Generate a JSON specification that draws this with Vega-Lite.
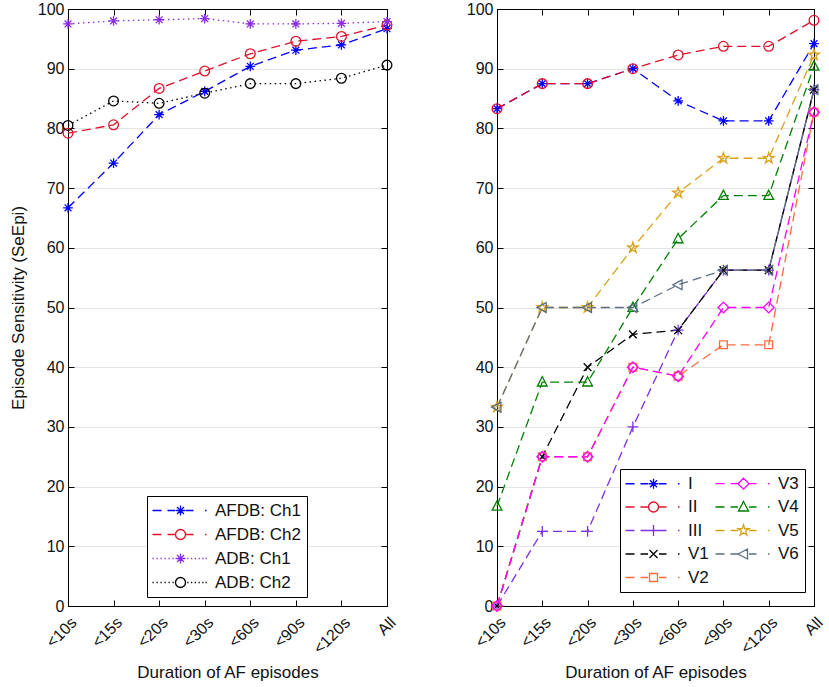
{
  "$schema": "https://vega.github.io/schema/vega-lite/v6.json",
  "padding": {"left": 8, "top": 0, "right": 5, "bottom": 5},
  "spacing": 110,
  "bounds": "flush",
  "resolve": {
    "scale": {"color": "independent", "shape": "independent", "strokeDash": "independent"}
  },
  "config": {
    "font": "Liberation Sans",
    "view": {"stroke": "black", "strokeWidth": 1},
    "axis": {
      "domainColor": "black", "tickColor": "black", "gridColor": "#e4e4e4", "gridWidth": 1,
      "labelFontSize": 16, "titleFontSize": 17, "titleFontWeight": "normal",
      "labelColor": "#111", "titleColor": "#111", "tickSize": -6, "labelPadding": 10
    },
    "legend": {
      "orient": "none", "title": null, "strokeColor": "black", "fillColor": "white",
      "padding": 6, "labelFontSize": 17, "labelColor": "#111", "symbolSize": 100,
      "symbolStrokeWidth": 1.3, "rowPadding": 6, "symbolOffset": 19, "labelOffset": 26
    }
  },
  "datasets": {
    "left": [
      {"dur": "<10s", "series": "AFDB: Ch1", "se": 66.7},
      {"dur": "<15s", "series": "AFDB: Ch1", "se": 74.2},
      {"dur": "<20s", "series": "AFDB: Ch1", "se": 82.3},
      {"dur": "<30s", "series": "AFDB: Ch1", "se": 86.2},
      {"dur": "<60s", "series": "AFDB: Ch1", "se": 90.4},
      {"dur": "<90s", "series": "AFDB: Ch1", "se": 93.1},
      {"dur": "<120s", "series": "AFDB: Ch1", "se": 94.0},
      {"dur": "All", "series": "AFDB: Ch1", "se": 96.7},
      {"dur": "<10s", "series": "AFDB: Ch2", "se": 79.2},
      {"dur": "<15s", "series": "AFDB: Ch2", "se": 80.6},
      {"dur": "<20s", "series": "AFDB: Ch2", "se": 86.7},
      {"dur": "<30s", "series": "AFDB: Ch2", "se": 89.6},
      {"dur": "<60s", "series": "AFDB: Ch2", "se": 92.5},
      {"dur": "<90s", "series": "AFDB: Ch2", "se": 94.6},
      {"dur": "<120s", "series": "AFDB: Ch2", "se": 95.4},
      {"dur": "All", "series": "AFDB: Ch2", "se": 97.3},
      {"dur": "<10s", "series": "ADB: Ch1", "se": 97.5},
      {"dur": "<15s", "series": "ADB: Ch1", "se": 98.0},
      {"dur": "<20s", "series": "ADB: Ch1", "se": 98.2},
      {"dur": "<30s", "series": "ADB: Ch1", "se": 98.4},
      {"dur": "<60s", "series": "ADB: Ch1", "se": 97.5},
      {"dur": "<90s", "series": "ADB: Ch1", "se": 97.5},
      {"dur": "<120s", "series": "ADB: Ch1", "se": 97.6},
      {"dur": "All", "series": "ADB: Ch1", "se": 97.9},
      {"dur": "<10s", "series": "ADB: Ch2", "se": 80.5},
      {"dur": "<15s", "series": "ADB: Ch2", "se": 84.6},
      {"dur": "<20s", "series": "ADB: Ch2", "se": 84.2},
      {"dur": "<30s", "series": "ADB: Ch2", "se": 85.9},
      {"dur": "<60s", "series": "ADB: Ch2", "se": 87.5},
      {"dur": "<90s", "series": "ADB: Ch2", "se": 87.5},
      {"dur": "<120s", "series": "ADB: Ch2", "se": 88.4},
      {"dur": "All", "series": "ADB: Ch2", "se": 90.6}
    ],
    "right": [
      {"dur": "<10s", "series": "I", "se": 83.3},
      {"dur": "<15s", "series": "I", "se": 87.5},
      {"dur": "<20s", "series": "I", "se": 87.5},
      {"dur": "<30s", "series": "I", "se": 90.0},
      {"dur": "<60s", "series": "I", "se": 84.6},
      {"dur": "<90s", "series": "I", "se": 81.25},
      {"dur": "<120s", "series": "I", "se": 81.25},
      {"dur": "All", "series": "I", "se": 94.2},
      {"dur": "<10s", "series": "II", "se": 83.3},
      {"dur": "<15s", "series": "II", "se": 87.5},
      {"dur": "<20s", "series": "II", "se": 87.5},
      {"dur": "<30s", "series": "II", "se": 90.0},
      {"dur": "<60s", "series": "II", "se": 92.3},
      {"dur": "<90s", "series": "II", "se": 93.75},
      {"dur": "<120s", "series": "II", "se": 93.75},
      {"dur": "All", "series": "II", "se": 98.1},
      {"dur": "<10s", "series": "III", "se": 0},
      {"dur": "<15s", "series": "III", "se": 12.5},
      {"dur": "<20s", "series": "III", "se": 12.5},
      {"dur": "<30s", "series": "III", "se": 30.0},
      {"dur": "<60s", "series": "III", "se": 46.2},
      {"dur": "<90s", "series": "III", "se": 56.25},
      {"dur": "<120s", "series": "III", "se": 56.25},
      {"dur": "All", "series": "III", "se": 86.5},
      {"dur": "<10s", "series": "V1", "se": 0},
      {"dur": "<15s", "series": "V1", "se": 25.0},
      {"dur": "<20s", "series": "V1", "se": 40.0},
      {"dur": "<30s", "series": "V1", "se": 45.5},
      {"dur": "<60s", "series": "V1", "se": 46.2},
      {"dur": "<90s", "series": "V1", "se": 56.25},
      {"dur": "<120s", "series": "V1", "se": 56.25},
      {"dur": "All", "series": "V1", "se": 86.5},
      {"dur": "<10s", "series": "V2", "se": 0},
      {"dur": "<15s", "series": "V2", "se": 25.0},
      {"dur": "<20s", "series": "V2", "se": 25.0},
      {"dur": "<30s", "series": "V2", "se": 40.0},
      {"dur": "<60s", "series": "V2", "se": 38.5},
      {"dur": "<90s", "series": "V2", "se": 43.75},
      {"dur": "<120s", "series": "V2", "se": 43.75},
      {"dur": "All", "series": "V2", "se": 82.7},
      {"dur": "<10s", "series": "V3", "se": 0},
      {"dur": "<15s", "series": "V3", "se": 25.0},
      {"dur": "<20s", "series": "V3", "se": 25.0},
      {"dur": "<30s", "series": "V3", "se": 40.0},
      {"dur": "<60s", "series": "V3", "se": 38.5},
      {"dur": "<90s", "series": "V3", "se": 50.0},
      {"dur": "<120s", "series": "V3", "se": 50.0},
      {"dur": "All", "series": "V3", "se": 82.7},
      {"dur": "<10s", "series": "V4", "se": 16.7},
      {"dur": "<15s", "series": "V4", "se": 37.5},
      {"dur": "<20s", "series": "V4", "se": 37.5},
      {"dur": "<30s", "series": "V4", "se": 50.0},
      {"dur": "<60s", "series": "V4", "se": 61.5},
      {"dur": "<90s", "series": "V4", "se": 68.75},
      {"dur": "<120s", "series": "V4", "se": 68.75},
      {"dur": "All", "series": "V4", "se": 90.4},
      {"dur": "<10s", "series": "V5", "se": 33.3},
      {"dur": "<15s", "series": "V5", "se": 50.0},
      {"dur": "<20s", "series": "V5", "se": 50.0},
      {"dur": "<30s", "series": "V5", "se": 60.0},
      {"dur": "<60s", "series": "V5", "se": 69.2},
      {"dur": "<90s", "series": "V5", "se": 75.0},
      {"dur": "<120s", "series": "V5", "se": 75.0},
      {"dur": "All", "series": "V5", "se": 92.3},
      {"dur": "<10s", "series": "V6", "se": 33.3},
      {"dur": "<15s", "series": "V6", "se": 50.0},
      {"dur": "<20s", "series": "V6", "se": 50.0},
      {"dur": "<30s", "series": "V6", "se": 50.0},
      {"dur": "<60s", "series": "V6", "se": 53.8},
      {"dur": "<90s", "series": "V6", "se": 56.25},
      {"dur": "<120s", "series": "V6", "se": 56.25},
      {"dur": "All", "series": "V6", "se": 86.5}
    ]
  },
  "hconcat": [
    {
      "width": 319,
      "height": 597,
      "data": {"name": "left"},
      "layer": [
        {
          "mark": {"type": "line", "strokeWidth": 1.3},
          "encoding": {
            "x": {
              "field": "dur", "type": "ordinal",
              "scale": {"type": "point", "padding": 0, "domain": ["<10s", "<15s", "<20s", "<30s", "<60s", "<90s", "<120s", "All"]},
              "axis": {"title": "Duration of AF episodes", "labelAngle": -45, "labelAlign": "right", "labelBaseline": "top", "labelPadding": 14, "titlePadding": 8}
            },
            "y": {
              "field": "se", "type": "quantitative",
              "scale": {"domain": [0, 100], "nice": false},
              "axis": {"title": "Episode Sensitivity (SeEpi)", "values": [0, 10, 20, 30, 40, 50, 60, 70, 80, 90, 100], "titlePadding": 10}
            },
            "color": {
              "field": "series", "type": "nominal",
              "scale": {"domain": ["AFDB: Ch1", "AFDB: Ch2", "ADB: Ch1", "ADB: Ch2"], "range": ["#0000FF", "#E0102A", "#8B2BE2", "#000000"]},
              "legend": {
                "legendX": 79, "legendY": 487,
                "encode": {"symbols": {"update": {
                  "fill": {"value": "transparent"},
                  "strokeDash": {"value": []},
                  "shape": {"signal": "{'AFDB: Ch1': 'M-5.6,0L-3.8,0M-2.6,0L-1.1,0M1.1,0L2.6,0M4.9,0L5.2,0M-1,0L1,0M0,-1L0,1M-0.7,-0.7L0.7,0.7M-0.7,0.7L0.7,-0.7', 'AFDB: Ch2': 'M-5.6,0L-3.8,0M-2.6,0L-1.1,0M1.1,0L2.6,0M4.9,0L5.2,0M1,0A1,1,0,1,1,-1,0A1,1,0,1,1,1,0Z', 'ADB: Ch1': 'M-5.6,0L-5.35,0M-4.8,0L-4.55,0M-4,0L-3.75,0M-3.2,0L-2.95,0M-2.4,0L-2.15,0M-1.6,0L-1.35,0M1.35,0L1.6,0M2.1,0L2.35,0M2.85,0L3.1,0M3.6,0L3.85,0M4.35,0L4.6,0M5.0,0L5.25,0M-1,0L1,0M0,-1L0,1M-0.7,-0.7L0.7,0.7M-0.7,0.7L0.7,-0.7', 'ADB: Ch2': 'M-5.6,0L-5.35,0M-4.8,0L-4.55,0M-4,0L-3.75,0M-3.2,0L-2.95,0M-2.4,0L-2.15,0M-1.6,0L-1.35,0M1.35,0L1.6,0M2.1,0L2.35,0M2.85,0L3.1,0M3.6,0L3.85,0M4.35,0L4.6,0M5.0,0L5.25,0M1,0A1,1,0,1,1,-1,0A1,1,0,1,1,1,0Z'}[datum.value]"}
                }}}
              }
            },
            "strokeDash": {
              "field": "series", "type": "nominal",
              "scale": {"domain": ["AFDB: Ch1", "AFDB: Ch2", "ADB: Ch1", "ADB: Ch2"], "range": [[9, 5], [9, 5], [1.5, 3.5], [1.5, 3.5]]},
              "legend": null
            }
          }
        },
        {
          "mark": {"type": "point", "filled": false, "strokeWidth": 1.3, "size": 95, "opacity": 1},
          "encoding": {
            "x": {"field": "dur", "type": "ordinal", "axis": {"orient": "top", "labels": false, "grid": false, "title": null}},
            "y": {"field": "se", "type": "quantitative", "axis": {"orient": "right", "labels": false, "grid": false, "title": null, "values": [0, 10, 20, 30, 40, 50, 60, 70, 80, 90, 100]}},
            "color": {"field": "series", "type": "nominal", "legend": null},
            "shape": {
              "field": "series", "type": "nominal",
              "scale": {"domain": ["AFDB: Ch1", "AFDB: Ch2", "ADB: Ch1", "ADB: Ch2"], "range": ["M-1,0L1,0M0,-1L0,1M-0.7,-0.7L0.7,0.7M-0.7,0.7L0.7,-0.7", "circle", "M-1,0L1,0M0,-1L0,1M-0.7,-0.7L0.7,0.7M-0.7,0.7L0.7,-0.7", "circle"]},
              "legend": null
            }
          }
        }
      ],
      "resolve": {"axis": {"x": "independent", "y": "independent"}, "legend": {"color": "independent"}}
    },
    {
      "width": 317,
      "height": 597,
      "data": {"name": "right"},
      "layer": [
        {
          "mark": {"type": "line", "strokeWidth": 1.3, "strokeDash": [9, 5]},
          "encoding": {
            "x": {
              "field": "dur", "type": "ordinal",
              "scale": {"type": "point", "padding": 0, "domain": ["<10s", "<15s", "<20s", "<30s", "<60s", "<90s", "<120s", "All"]},
              "axis": {"title": "Duration of AF episodes", "labelAngle": -45, "labelAlign": "right", "labelBaseline": "top", "labelPadding": 14, "titlePadding": 8}
            },
            "y": {
              "field": "se", "type": "quantitative",
              "scale": {"domain": [0, 100], "nice": false},
              "axis": {"title": null, "values": [0, 10, 20, 30, 40, 50, 60, 70, 80, 90, 100]}
            },
            "color": {
              "field": "series", "type": "nominal",
              "scale": {"domain": ["I", "II", "III", "V1", "V2", "V3", "V4", "V5", "V6"], "range": ["#0000FF", "#E0102A", "#7B2FE6", "#000000", "#FF6A3D", "#FF00FF", "#008000", "#D9A21B", "#5B6E82"]},
              "legend": {
                "legendX": 123, "legendY": 460, "columns": 2, "columnPadding": 3, "rowPadding": 5.5,
                "encode": {"symbols": {"update": {
                  "fill": {"value": "transparent"},
                  "strokeDash": {"value": []},
                  "shape": {"signal": "{'I': 'M-5.6,0L-3.8,0M-2.6,0L-1.1,0M1.1,0L2.6,0M4.9,0L5.2,0M-1,0L1,0M0,-1L0,1M-0.7,-0.7L0.7,0.7M-0.7,0.7L0.7,-0.7', 'II': 'M-5.6,0L-3.8,0M-2.6,0L-1.1,0M1.1,0L2.6,0M4.9,0L5.2,0M1,0A1,1,0,1,1,-1,0A1,1,0,1,1,1,0Z', 'III': 'M-5.6,0L-3.8,0M-2.6,0L-1.1,0M1.1,0L2.6,0M4.9,0L5.2,0M-1.1,0L1.1,0M0,-1.1L0,1.1', 'V1': 'M-5.6,0L-3.8,0M-2.6,0L-1.1,0M1.1,0L2.6,0M4.9,0L5.2,0M-0.8,-0.8L0.8,0.8M-0.8,0.8L0.8,-0.8', 'V2': 'M-5.6,0L-3.8,0M-2.6,0L-1.1,0M1.1,0L2.6,0M4.9,0L5.2,0M-0.8,-0.8L0.8,-0.8L0.8,0.8L-0.8,0.8Z', 'V3': 'M-5.6,0L-3.8,0M-2.6,0L-1.1,0M1.1,0L2.6,0M4.9,0L5.2,0M0,-1.1L1.1,0L0,1.1L-1.1,0Z', 'V4': 'M-5.6,0L-3.8,0M-2.6,0L-1.1,0M1.1,0L2.6,0M4.9,0L5.2,0M0,-1.1L1,0.8L-1,0.8Z', 'V5': 'M-5.6,0L-3.8,0M-2.6,0L-1.1,0M1.1,0L2.6,0M4.9,0L5.2,0M0,-1.15L0.26,-0.35L1.09,-0.36L0.42,0.13L0.68,0.93L0,0.44L-0.68,0.93L-0.42,0.13L-1.09,-0.36L-0.26,-0.35Z', 'V6': 'M-5.6,0L-3.8,0M-2.6,0L-1.1,0M1.1,0L2.6,0M4.9,0L5.2,0M-1.1,0L0.8,-1L0.8,1Z'}[datum.value]"}
                }}}
              }
            }
          }
        },
        {
          "mark": {"type": "point", "filled": false, "strokeWidth": 1.3, "size": 95, "opacity": 1},
          "encoding": {
            "x": {"field": "dur", "type": "ordinal", "axis": {"orient": "top", "labels": false, "grid": false, "title": null}},
            "y": {"field": "se", "type": "quantitative", "axis": {"orient": "right", "labels": false, "grid": false, "title": null, "values": [0, 10, 20, 30, 40, 50, 60, 70, 80, 90, 100]}},
            "color": {"field": "series", "type": "nominal", "legend": null},
            "shape": {
              "field": "series", "type": "nominal",
              "scale": {"domain": ["I", "II", "III", "V1", "V2", "V3", "V4", "V5", "V6"], "range": [
                "M-1,0L1,0M0,-1L0,1M-0.7,-0.7L0.7,0.7M-0.7,0.7L0.7,-0.7",
                "circle",
                "M-1.1,0L1.1,0M0,-1.1L0,1.1",
                "M-0.8,-0.8L0.8,0.8M-0.8,0.8L0.8,-0.8",
                "M-0.8,-0.8L0.8,-0.8L0.8,0.8L-0.8,0.8Z",
                "M0,-1.1L1.1,0L0,1.1L-1.1,0Z",
                "M0,-1.1L1,0.8L-1,0.8Z",
                "M0,-1.15L0.26,-0.35L1.09,-0.36L0.42,0.13L0.68,0.93L0,0.44L-0.68,0.93L-0.42,0.13L-1.09,-0.36L-0.26,-0.35Z",
                "M-1.1,0L0.8,-1L0.8,1Z"
              ]},
              "legend": null
            }
          }
        }
      ],
      "resolve": {"axis": {"x": "independent", "y": "independent"}, "legend": {"color": "independent"}}
    }
  ]
}
